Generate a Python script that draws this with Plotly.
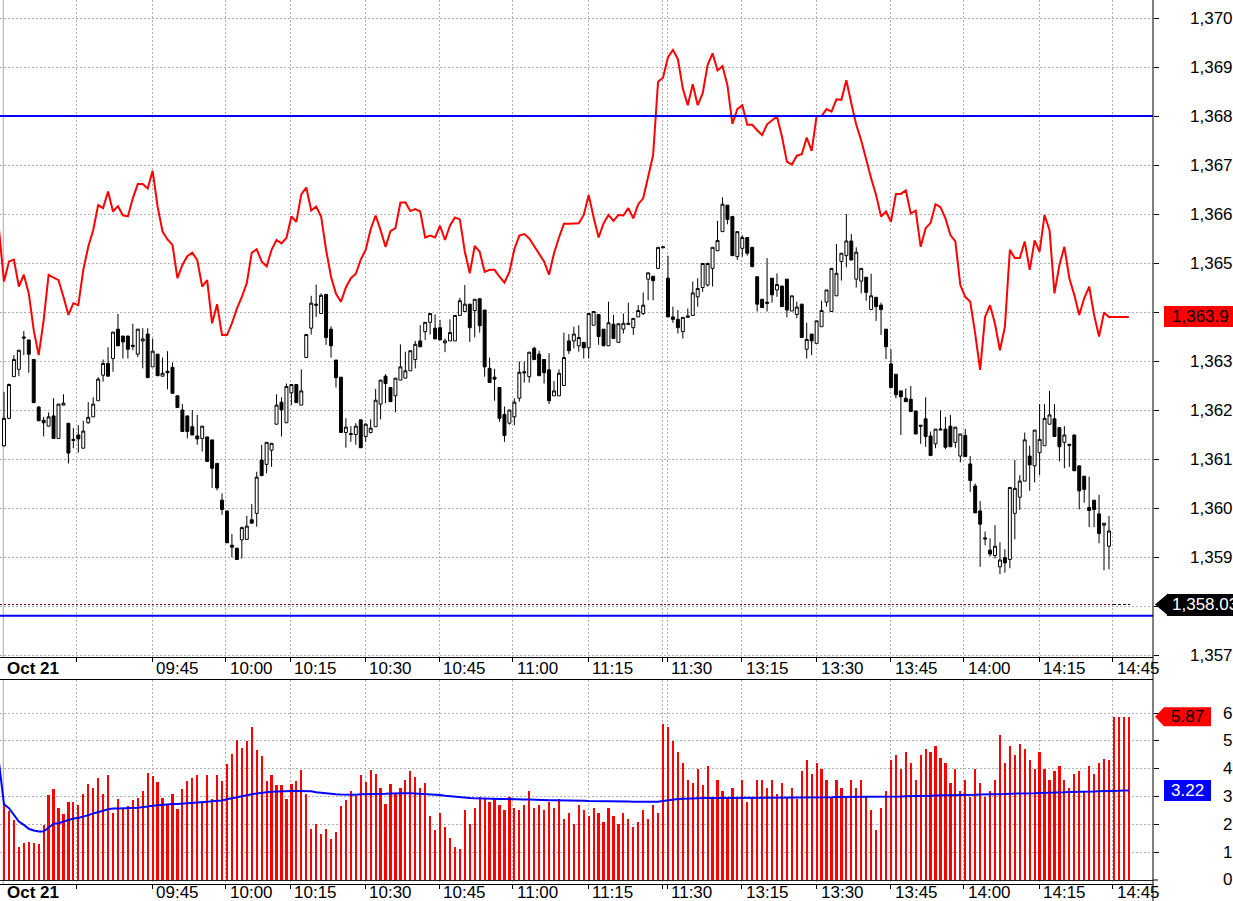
import plotly.graph_objects as go

# ---------------- data ----------------
opens = [1361.27, 1361.83, 1362.68, 1362.83, 1363.49, 1363.43, 1363.03, 1362.06, 1361.79, 1361.67,
         1361.88, 1361.42, 1362.10, 1361.73, 1361.40, 1361.49, 1361.22, 1361.74, 1361.86, 1362.19,
         1362.71, 1362.95, 1363.05, 1363.65, 1363.51, 1363.51, 1363.32, 1363.14, 1363.41, 1363.55,
         1362.88, 1363.14, 1362.69, 1362.79, 1362.87, 1362.29, 1362.00, 1361.88, 1361.66, 1361.47,
         1361.42, 1361.45, 1361.39, 1360.91, 1360.16, 1359.94, 1359.24, 1359.18, 1359.35, 1359.36,
         1359.76, 1359.89, 1360.98, 1360.89, 1361.18, 1361.71, 1362.16, 1361.74, 1362.35, 1362.52,
         1362.10, 1363.07, 1363.67, 1364.16, 1363.97, 1364.36, 1363.65, 1363.02, 1362.67, 1361.54,
         1361.52, 1361.50, 1361.80, 1361.46, 1361.54, 1361.66, 1362.12, 1362.69, 1362.46, 1362.29,
         1362.61, 1362.65, 1362.80, 1363.03, 1363.41, 1363.60, 1363.79, 1363.67, 1363.68, 1363.37,
         1363.41, 1363.41, 1363.93, 1364.01, 1364.16, 1364.03, 1364.27, 1364.04, 1362.85, 1362.67,
         1362.46, 1361.91, 1361.73, 1361.86, 1362.24, 1362.78, 1362.68, 1363.26, 1363.14, 1363.03,
         1362.82, 1362.29, 1362.29, 1362.50, 1363.41, 1363.41, 1363.31, 1363.38, 1363.27, 1363.73,
         1363.95, 1363.65, 1363.31, 1363.75, 1363.38, 1363.65, 1363.77, 1363.68, 1363.90, 1363.97,
         1364.67, 1364.73, 1364.89, 1365.31, 1364.69, 1363.90, 1363.85, 1363.60, 1363.89, 1363.93,
         1364.31, 1364.50, 1364.55, 1364.89, 1365.25, 1365.64, 1366.18, 1365.95, 1365.13, 1365.30,
         1365.52, 1365.32, 1364.72, 1364.26, 1364.20, 1364.69, 1364.45, 1364.53, 1364.67, 1364.02,
         1363.95, 1364.16, 1363.24, 1363.55, 1363.36, 1363.70, 1364.20, 1364.01, 1364.33, 1365.03,
         1365.15, 1365.45, 1364.67, 1364.63, 1364.71, 1364.05, 1364.30, 1364.14, 1363.65, 1362.94,
         1362.73, 1362.39, 1362.24, 1362.22, 1361.98, 1361.69, 1361.82, 1361.47, 1361.31, 1361.59,
         1361.61, 1361.67, 1361.34, 1361.06, 1361.48, 1360.90, 1360.45, 1359.94, 1359.39, 1359.14,
         1359.03, 1358.80, 1358.99, 1358.95, 1359.89, 1360.22, 1360.55, 1361.06, 1360.86, 1361.13,
         1361.27, 1361.71, 1361.82, 1361.64, 1361.34, 1361.30, 1361.49, 1360.86, 1360.65, 1360.01,
         1360.16, 1359.88, 1359.65, 1359.22]
highs = [1362.37, 1362.54, 1363.12, 1363.22, 1363.61, 1363.43, 1363.03, 1362.08, 1361.86, 1361.95,
         1362.24, 1362.12, 1362.32, 1361.73, 1361.63, 1361.69, 1361.78, 1362.16, 1362.26, 1362.67,
         1363.03, 1363.28, 1363.59, 1363.96, 1363.51, 1363.51, 1363.76, 1363.65, 1363.67, 1363.67,
         1363.46, 1363.14, 1363.07, 1363.20, 1362.97, 1362.29, 1362.12, 1361.88, 1362.00, 1361.90,
         1361.67, 1361.45, 1361.39, 1360.91, 1360.30, 1359.94, 1359.47, 1359.18, 1359.62, 1359.84,
         1360.08, 1360.74, 1361.29, 1361.34, 1361.32, 1362.32, 1362.26, 1362.54, 1362.52, 1362.52,
         1362.83, 1363.54, 1364.33, 1364.56, 1364.38, 1364.36, 1363.71, 1363.02, 1362.67, 1361.83,
         1361.67, 1361.73, 1361.80, 1361.73, 1361.81, 1362.43, 1362.61, 1362.73, 1362.46, 1362.65,
         1363.34, 1363.19, 1363.21, 1363.41, 1363.73, 1363.79, 1363.97, 1363.95, 1363.84, 1363.46,
         1363.85, 1363.93, 1364.29, 1364.55, 1364.16, 1364.26, 1364.27, 1364.04, 1363.07, 1362.84,
         1362.46, 1362.07, 1362.00, 1362.24, 1362.99, 1362.99, 1363.18, 1363.29, 1363.21, 1363.03,
         1363.16, 1362.59, 1362.83, 1363.58, 1363.55, 1363.70, 1363.73, 1363.38, 1363.97, 1364.01,
         1363.95, 1363.65, 1364.21, 1363.94, 1363.76, 1363.97, 1364.19, 1363.87, 1364.14, 1364.40,
         1364.80, 1364.73, 1365.32, 1365.33, 1365.15, 1364.11, 1364.04, 1363.89, 1364.07, 1364.62,
         1364.69, 1364.99, 1365.01, 1365.32, 1365.86, 1366.34, 1366.18, 1365.95, 1365.64, 1365.57,
         1365.52, 1365.32, 1364.72, 1364.26, 1365.10, 1364.69, 1364.79, 1364.53, 1364.67, 1364.33,
         1364.21, 1364.16, 1363.78, 1363.55, 1363.82, 1364.23, 1364.45, 1364.89, 1365.39, 1365.20,
         1366.00, 1365.59, 1365.32, 1364.89, 1364.71, 1364.78, 1364.30, 1364.19, 1363.65, 1363.24,
         1362.73, 1362.39, 1362.44, 1362.49, 1361.98, 1361.69, 1362.26, 1361.56, 1361.61, 1361.99,
         1361.86, 1361.90, 1361.65, 1361.51, 1361.61, 1361.06, 1360.50, 1360.14, 1359.52, 1359.38,
         1359.65, 1359.30, 1359.16, 1360.42, 1360.98, 1360.67, 1361.54, 1361.27, 1361.59, 1362.12,
         1362.12, 1362.39, 1362.12, 1361.64, 1361.67, 1361.30, 1361.49, 1360.86, 1360.65, 1360.64,
         1360.16, 1360.27, 1359.69, 1359.84]
lows = [1361.25, 1361.81, 1362.68, 1362.69, 1363.12, 1362.76, 1362.15, 1361.78, 1361.46, 1361.67,
        1361.42, 1361.42, 1362.10, 1360.91, 1361.22, 1361.13, 1361.22, 1361.72, 1361.86, 1362.19,
        1362.58, 1362.69, 1362.78, 1363.31, 1363.05, 1363.05, 1363.22, 1363.08, 1362.85, 1362.66,
        1362.88, 1362.70, 1362.69, 1362.42, 1362.34, 1362.05, 1361.56, 1361.42, 1361.49, 1361.29,
        1361.15, 1360.95, 1360.41, 1360.36, 1359.86, 1359.29, 1358.99, 1358.95, 1358.97, 1359.36,
        1359.69, 1359.62, 1360.66, 1360.71, 1360.84, 1361.71, 1361.46, 1361.74, 1362.10, 1362.15,
        1362.10, 1363.07, 1363.54, 1363.90, 1363.97, 1363.33, 1363.07, 1362.46, 1361.54, 1361.23,
        1361.35, 1361.29, 1361.23, 1361.35, 1361.52, 1361.66, 1361.81, 1362.14, 1362.17, 1361.95,
        1362.61, 1362.65, 1362.80, 1362.85, 1363.29, 1363.43, 1363.54, 1363.45, 1363.43, 1363.18,
        1363.41, 1363.41, 1363.93, 1364.01, 1363.39, 1363.48, 1363.58, 1362.68, 1362.56, 1362.19,
        1361.76, 1361.35, 1361.70, 1361.69, 1362.17, 1362.56, 1362.56, 1363.03, 1362.70, 1362.54,
        1362.12, 1362.29, 1362.29, 1362.50, 1363.14, 1363.26, 1363.19, 1363.05, 1363.05, 1363.73,
        1363.33, 1363.31, 1363.31, 1363.46, 1363.38, 1363.56, 1363.75, 1363.53, 1363.90, 1363.94,
        1364.24, 1364.24, 1364.89, 1365.31, 1363.90, 1363.78, 1363.56, 1363.46, 1363.89, 1363.93,
        1364.11, 1364.41, 1364.52, 1364.52, 1365.25, 1365.64, 1365.79, 1365.15, 1365.06, 1365.13,
        1365.15, 1364.91, 1364.01, 1364.09, 1364.01, 1364.19, 1364.31, 1364.11, 1363.89, 1364.02,
        1363.87, 1363.48, 1363.05, 1363.12, 1363.36, 1363.70, 1364.11, 1364.01, 1364.33, 1364.64,
        1364.91, 1365.06, 1364.50, 1364.38, 1364.23, 1364.05, 1363.82, 1363.53, 1363.04, 1362.46,
        1362.24, 1361.49, 1362.17, 1361.97, 1361.51, 1361.31, 1361.25, 1361.07, 1361.22, 1361.59,
        1361.20, 1361.25, 1361.23, 1360.93, 1361.05, 1360.33, 1359.90, 1358.80, 1359.24, 1359.01,
        1358.97, 1358.65, 1358.68, 1358.77, 1359.36, 1359.96, 1360.55, 1360.35, 1360.52, 1360.67,
        1361.27, 1361.71, 1361.46, 1360.95, 1360.81, 1360.84, 1360.76, 1359.97, 1360.11, 1359.61,
        1359.61, 1359.28, 1358.73, 1358.75]
closes = [1361.83, 1362.52, 1363.03, 1363.22, 1363.47, 1363.14, 1362.15, 1361.78, 1361.74, 1361.86,
          1361.42, 1362.12, 1362.14, 1361.12, 1361.38, 1361.41, 1361.57, 1361.85, 1362.12, 1362.63,
          1362.95, 1362.69, 1363.59, 1363.31, 1363.39, 1363.24, 1363.30, 1363.65, 1363.45, 1362.66,
          1363.20, 1362.70, 1362.75, 1362.76, 1362.34, 1362.05, 1361.56, 1361.56, 1361.49, 1361.41,
          1361.67, 1360.95, 1360.81, 1360.41, 1359.97, 1359.29, 1359.20, 1358.95, 1359.60, 1359.63,
          1359.69, 1360.63, 1360.66, 1361.34, 1361.32, 1362.10, 1362.00, 1362.48, 1362.52, 1362.15,
          1362.39, 1363.54, 1364.18, 1364.14, 1364.34, 1363.48, 1363.31, 1362.66, 1361.54, 1361.65,
          1361.50, 1361.67, 1361.23, 1361.71, 1361.63, 1362.20, 1362.61, 1362.54, 1362.17, 1362.65,
          1362.88, 1362.80, 1363.21, 1363.34, 1363.29, 1363.79, 1363.97, 1363.45, 1363.43, 1363.41,
          1363.58, 1363.93, 1364.23, 1364.16, 1363.68, 1364.26, 1363.72, 1362.88, 1362.56, 1362.63,
          1361.83, 1361.48, 1362.00, 1362.16, 1362.77, 1362.76, 1363.18, 1363.03, 1362.70, 1362.76,
          1362.19, 1362.39, 1362.75, 1363.07, 1363.21, 1363.55, 1363.48, 1363.27, 1363.97, 1364.01,
          1363.50, 1363.31, 1363.78, 1363.46, 1363.76, 1363.77, 1363.75, 1363.87, 1364.03, 1364.14,
          1364.80, 1364.64, 1365.32, 1365.33, 1363.90, 1363.85, 1363.68, 1363.89, 1363.92, 1364.39,
          1364.48, 1364.99, 1364.99, 1365.32, 1365.46, 1366.20, 1365.89, 1365.15, 1365.64, 1365.52,
          1365.20, 1364.93, 1364.16, 1364.09, 1364.18, 1364.35, 1364.56, 1364.11, 1364.04, 1364.33,
          1364.10, 1363.48, 1363.44, 1363.41, 1363.82, 1364.03, 1364.45, 1364.89, 1364.79, 1365.20,
          1365.45, 1365.06, 1365.22, 1364.89, 1364.40, 1364.33, 1364.11, 1364.05, 1363.29, 1362.46,
          1362.31, 1362.27, 1362.17, 1361.97, 1361.51, 1361.67, 1361.46, 1361.07, 1361.61, 1361.61,
          1361.24, 1361.25, 1361.65, 1361.51, 1361.05, 1360.56, 1359.90, 1359.67, 1359.37, 1359.06,
          1359.22, 1358.94, 1358.88, 1360.42, 1360.40, 1360.55, 1361.39, 1360.88, 1361.59, 1361.40,
          1361.83, 1361.90, 1361.46, 1361.25, 1361.49, 1361.28, 1360.76, 1360.35, 1360.38, 1359.95,
          1359.97, 1359.48, 1359.69, 1359.53]

# red indicator line, bar -1 .. 227
red_line = [1365.67,
    1364.62, 1365.03, 1365.07, 1364.52, 1364.76, 1364.38, 1363.63, 1363.12, 1363.83, 1364.76,
    1364.70, 1364.65, 1364.31, 1363.94, 1364.18, 1364.14, 1364.86, 1365.33, 1365.67, 1366.18,
    1366.12, 1366.46, 1366.05, 1366.16, 1365.97, 1365.95, 1366.32, 1366.61, 1366.61, 1366.52,
    1366.88, 1366.15, 1365.64, 1365.48, 1365.37, 1364.69, 1364.96, 1365.14, 1365.21, 1365.06,
    1364.52, 1364.65, 1363.77, 1364.16, 1363.53, 1363.53, 1363.77, 1364.07, 1364.31, 1364.59,
    1365.21, 1365.28, 1365.03, 1364.93, 1365.27, 1365.47, 1365.40, 1365.51, 1365.95, 1365.84,
    1366.40, 1366.54, 1366.07, 1366.15, 1365.95, 1365.27, 1364.72, 1364.37, 1364.21, 1364.50,
    1364.69, 1364.78, 1365.07, 1365.27, 1365.69, 1365.97, 1365.67, 1365.33, 1365.65, 1365.71,
    1366.23, 1366.24, 1366.06, 1366.10, 1366.05, 1365.52, 1365.56, 1365.52, 1365.76, 1365.47,
    1365.76, 1365.93, 1365.89, 1365.23, 1364.79, 1365.35, 1365.23, 1364.82, 1364.86, 1364.86,
    1364.72, 1364.60, 1364.82, 1365.28, 1365.56, 1365.59, 1365.50, 1365.35, 1365.18, 1365.03,
    1364.76, 1365.20, 1365.52, 1365.80, 1365.80, 1365.81, 1365.81, 1365.98, 1366.39, 1365.93,
    1365.52, 1365.81, 1365.98, 1365.86, 1365.98, 1365.97, 1366.12, 1365.91, 1366.20, 1366.32,
    1366.76, 1367.20, 1368.70, 1368.78, 1369.20, 1369.35, 1369.16, 1368.56, 1368.22, 1368.65,
    1368.22, 1368.46, 1369.04, 1369.28, 1368.93, 1369.02, 1368.63, 1367.84, 1368.14, 1368.22,
    1367.82, 1367.82, 1367.71, 1367.61, 1367.83, 1367.92, 1367.99, 1367.58, 1367.07, 1367.01,
    1367.19, 1367.22, 1367.56, 1367.29, 1368.00, 1368.00, 1368.14, 1368.09, 1368.34, 1368.33,
    1368.73, 1368.26, 1367.82, 1367.50, 1367.10, 1366.73, 1366.39, 1365.95, 1366.05, 1365.84,
    1366.41, 1366.41, 1366.48, 1366.01, 1366.07, 1365.33, 1365.71, 1365.82, 1366.20, 1366.14,
    1365.91, 1365.57, 1365.44, 1364.55, 1364.31, 1364.21, 1363.56, 1362.82, 1363.90, 1364.14,
    1363.76, 1363.22, 1363.70, 1365.27, 1365.10, 1365.10, 1365.44, 1364.86, 1365.46, 1365.23,
    1365.98, 1365.67, 1364.38, 1364.96, 1365.33, 1364.69, 1364.35, 1363.94, 1364.28, 1364.52,
    1363.94, 1363.50, 1363.99, 1363.90, 1363.90, 1363.90, 1363.90, 1363.90]

# volume, bar 0 .. 227
volume = [2.69, 2.47, 2.15, 1.19, 1.34, 1.37, 1.34, 1.29, 1.97, 3.04,
          3.26, 2.59, 2.36, 2.80, 2.80, 2.69, 3.10, 3.44, 3.31, 3.68,
          3.08, 3.79, 2.39, 2.90, 2.60, 2.65, 2.86, 2.94, 3.19, 3.84,
          3.72, 3.51, 2.95, 2.74, 3.08, 2.54, 3.26, 3.54, 3.68, 3.79,
          2.78, 3.76, 2.90, 3.76, 3.56, 4.18, 4.51, 5.04, 4.74, 5.01,
          5.51, 4.68, 4.44, 3.56, 3.79, 3.40, 3.40, 2.90, 3.46, 3.54,
          3.94, 3.08, 1.83, 2.03, 1.65, 1.83, 1.46, 1.72, 2.65, 2.86,
          3.19, 3.03, 3.76, 3.52, 3.97, 3.82, 3.31, 2.74, 3.44, 3.10,
          3.32, 3.60, 3.90, 3.70, 3.30, 3.50, 2.30, 1.80, 2.40, 1.90,
          1.50, 1.20, 1.10, 2.50, 2.00, 2.60, 3.00, 2.90, 2.80, 2.90,
          2.70, 2.50, 3.00, 2.60, 2.50, 2.70, 3.20, 2.60, 2.70, 2.50,
          2.80, 2.60, 2.90, 2.20, 2.40, 2.00, 2.70, 2.50, 2.30, 2.60,
          2.40, 2.10, 2.60, 2.30, 2.00, 2.40, 2.20, 1.90, 2.10, 2.50,
          2.20, 2.70, 2.40, 5.60, 5.50, 5.00, 4.60, 4.20, 3.60, 3.50,
          4.00, 3.40, 4.10, 3.00, 3.60, 3.20, 2.90, 3.30, 3.00, 3.60,
          2.80, 3.00, 3.60, 3.60, 3.30, 3.60, 3.10, 3.50, 3.00, 3.30,
          2.90, 3.90, 4.30, 3.80, 4.20, 4.00, 3.60, 3.00, 3.60, 3.30,
          3.00, 3.60, 3.30, 3.60, 3.00, 2.50, 1.80, 2.60, 3.20, 4.30,
          4.50, 4.00, 4.60, 4.20, 3.60, 4.50, 4.70, 4.60, 4.80, 4.40,
          4.20, 3.50, 4.00, 3.20, 3.60, 3.00, 4.00, 3.50, 3.00, 3.20,
          3.60, 5.20, 4.20, 4.80, 4.50, 4.90, 4.70, 4.30, 4.00, 4.60,
          4.00, 3.60, 3.90, 4.10, 3.60, 3.30, 3.80, 3.90, 3.20, 4.10,
          3.80, 4.20, 4.35, 4.30, 5.87, 5.87, 5.87, 5.87]

# blue volume average, bar -1 .. 227
volume_avg = [4.20,
    2.72, 2.58, 2.36, 2.10, 1.98, 1.84, 1.78, 1.74, 1.74, 1.89,
    2.02, 2.04, 2.10, 2.16, 2.21, 2.23, 2.27, 2.33, 2.39, 2.45,
    2.49, 2.54, 2.57, 2.57, 2.57, 2.58, 2.59, 2.60, 2.61, 2.64,
    2.67, 2.69, 2.71, 2.72, 2.73, 2.73, 2.74, 2.75, 2.77, 2.78,
    2.80, 2.81, 2.83, 2.84, 2.86, 2.90, 2.94, 2.98, 3.01, 3.05,
    3.08, 3.11, 3.14, 3.15, 3.17, 3.18, 3.20, 3.20, 3.20, 3.20,
    3.20, 3.20, 3.19, 3.15, 3.13, 3.10, 3.09, 3.08, 3.07, 3.06,
    3.05, 3.06, 3.08, 3.08, 3.09, 3.09, 3.10, 3.10, 3.11, 3.12,
    3.13, 3.12, 3.12, 3.11, 3.11, 3.10, 3.08, 3.06, 3.05, 3.03,
    3.01, 2.99, 2.97, 2.96, 2.95, 2.94, 2.93, 2.93, 2.92, 2.92,
    2.91, 2.91, 2.90, 2.90, 2.89, 2.89, 2.89, 2.88, 2.88, 2.88,
    2.87, 2.87, 2.87, 2.86, 2.86, 2.85, 2.85, 2.85, 2.84, 2.84,
    2.84, 2.83, 2.83, 2.83, 2.82, 2.82, 2.82, 2.81, 2.81, 2.81,
    2.81, 2.81, 2.81, 2.84, 2.87, 2.89, 2.91, 2.92, 2.93, 2.93,
    2.94, 2.94, 2.95, 2.95, 2.95, 2.95, 2.95, 2.95, 2.95, 2.95,
    2.95, 2.95, 2.95, 2.95, 2.96, 2.96, 2.96, 2.96, 2.96, 2.96,
    2.96, 2.97, 2.97, 2.97, 2.97, 2.97, 2.97, 2.97, 2.98, 2.98,
    2.98, 2.98, 2.98, 2.98, 2.98, 2.98, 2.98, 2.98, 2.99, 2.99,
    3.00, 3.00, 3.01, 3.01, 3.02, 3.02, 3.03, 3.03, 3.04, 3.04,
    3.04, 3.05, 3.05, 3.05, 3.06, 3.06, 3.06, 3.07, 3.07, 3.08,
    3.08, 3.09, 3.09, 3.10, 3.10, 3.11, 3.11, 3.12, 3.12, 3.13,
    3.13, 3.14, 3.14, 3.15, 3.15, 3.16, 3.16, 3.17, 3.17, 3.18,
    3.18, 3.19, 3.19, 3.20, 3.21, 3.21, 3.22, 3.22]

date_label = "Oct 21"
time_ticks = [14.73, 29.87, 44.80, 57.72, 72.86, 87.79, 102.72, 117.86, 132.85, 133.86,
              148.88, 164.02, 179.01, 193.74, 208.88, 223.81]
time_labels = ["", "09:45", "10:00", "10:15", "10:30", "10:45", "11:00", "11:15", "", "11:30",
               "13:15", "13:30", "13:45", "14:00", "14:15", "14:45"]
price_ticks = list(range(1357, 1371))
price_tick_labels = ["1,357", "1,358", "1,359", "1,360", "1,361", "1,362", "1,363", "1,364",
                     "1,365", "1,366", "1,367", "1,368", "1,369", "1,370"]
volume_ticks = [0, 1, 2, 3, 4, 5, 6]
volume_tick_labels = ["0", "1", "2", "3", "4", "5", "6"]
level_high = 1368.0
level_low = 1357.8
ref_level = 1358.03
last_red = 1363.9
last_volume = 5.87
last_avg = 3.22

# ---------------- layout helpers ----------------
W, H = 1233, 901
ML, MR, MT, MB = 0, 80, 0, 17
PW, PH = W - ML - MR, H - MT - MB


def fx(px):
    return (px - ML) / PW


def fy(py):
    return (PH - (py - MT)) / PH


def price_px(v):
    return 312 + (1364 - v) * 49.0


def vol_px(v):
    return 880 - v * 27.83


main_dom = [fy(657), 1.0]
vol_dom = [0.0, fy(680)]
price_range = [1364 - (657 - 312) / 49.0, 1364 + 312 / 49.0]
vol_range = [-(884 - 880) / 27.83, (880 - 680) / 27.83]
x_range = [-4 / 4.955, (PW - 4) / 4.955]

FONT = "Liberation Sans, Arial, sans-serif"
GRID = "#b0b0b0"
FS = 17

n_c = len(opens)
fig = go.Figure()
fig.add_trace(go.Candlestick(
    x=list(range(n_c)), open=opens, high=highs, low=lows, close=closes,
    increasing=dict(line=dict(color="black", width=1), fillcolor="white"),
    decreasing=dict(line=dict(color="black", width=1), fillcolor="black"),
    whiskerwidth=0, xaxis="x", yaxis="y", showlegend=False, hoverinfo="skip"))
fig.add_trace(go.Scatter(
    x=list(range(-1, len(red_line) - 1)), y=red_line, mode="lines",
    line=dict(color="#ff0000", width=2), xaxis="x", yaxis="y", showlegend=False,
    hoverinfo="skip"))
fig.add_trace(go.Bar(
    x=list(range(len(volume))), y=volume, marker=dict(color="#ff0000", line=dict(width=0)),
    width=0.45, xaxis="x2", yaxis="y2", showlegend=False, hoverinfo="skip"))
fig.add_trace(go.Scatter(
    x=list(range(-1, len(volume_avg) - 1)), y=volume_avg, mode="lines",
    line=dict(color="#0000ff", width=2), xaxis="x2", yaxis="y2", showlegend=False,
    hoverinfo="skip"))

axis_common = dict(showticklabels=False, ticks="outside", ticklen=4, tickcolor="black",
                   showgrid=True, gridcolor=GRID, griddash="2px,2px", gridwidth=1,
                   zeroline=False, fixedrange=True)

fig.update_layout(
    width=W, height=H, margin=dict(l=ML, r=MR, t=MT, b=MB),
    paper_bgcolor="white", plot_bgcolor="white", hovermode=False, showlegend=False,
    boxgap=0.3, boxgroupgap=0.15, bargap=0,
    xaxis=dict(domain=[0, 1], range=x_range, anchor="y", tickvals=time_ticks,
               showline=True, linecolor="black", linewidth=1,
               rangeslider=dict(visible=False), **axis_common),
    xaxis2=dict(domain=[0, 1], range=x_range, anchor="y2", matches="x", tickvals=time_ticks,
                showline=True, linecolor="black", linewidth=1, mirror=True, **axis_common),
    yaxis=dict(domain=main_dom, range=price_range, side="right", anchor="x",
               tickvals=price_ticks, showticklabels=False, ticks="outside", ticklen=5,
               tickcolor="black", showgrid=True, gridcolor=GRID, griddash="2px,2px",
               zeroline=False, showline=False, fixedrange=True),
    yaxis2=dict(domain=vol_dom, range=vol_range, side="right", anchor="x2",
                tickvals=volume_ticks[1:], showticklabels=False, ticks="outside", ticklen=5,
                tickcolor="black", showgrid=True, gridcolor=GRID, griddash="2px,2px",
                zeroline=True, zerolinecolor="#202020", zerolinewidth=1,
                showline=False, fixedrange=True),
)

shapes = []
for lv in (level_high, level_low):
    shapes.append(dict(type="line", xref="paper", yref="y", x0=0, x1=1, y0=lv, y1=lv,
                       line=dict(color="#0000ff", width=2)))
shapes.append(dict(type="line", xref="x", yref="y", x0=x_range[0], x1=time_ticks[-1],
                   y0=ref_level, y1=ref_level, line=dict(color="#700000", width=1, dash="2px,2px")))
shapes.append(dict(type="line", xref="x", yref="y", x0=time_ticks[-1], x1=227.3,
                   y0=ref_level, y1=ref_level, line=dict(color="black", width=1, dash="3px,2px")))
for dom in (main_dom, vol_dom):
    shapes.append(dict(type="line", xref="x", yref="paper", x0=-0.15, x1=-0.15,
                       y0=dom[0], y1=dom[1], line=dict(color="#a8a8a8", width=1), layer="below"))
shapes.append(dict(type="line", xref="paper", yref="paper", x0=1, x1=1, y0=fy(H), y1=1,
                   line=dict(color="black", width=1)))
shapes.append(dict(type="line", xref="paper", yref="paper", x0=1, x1=fx(1158),
                   y0=fy(vol_px(0)), y1=fy(vol_px(0)), line=dict(color="black", width=1)))


def path(points):
    return "M " + " L ".join(f"{fx(a):.5f},{fy(b):.5f}" for a, b in points) + " Z"


# arrow tips (shapes), box bodies are annotations so they sit above tick labels
py = price_px(ref_level)
shapes.append(dict(type="path", xref="paper", yref="paper",
                   path=path([(1155, py), (1168, py - 11), (1168, py + 11)]),
                   fillcolor="black", line=dict(width=0)))
py = vol_px(last_volume)
shapes.append(dict(type="path", xref="paper", yref="paper",
                   path=path([(1155, py), (1164, py - 9.5), (1211, py - 9.5), (1211, py + 9.5), (1164, py + 9.5)]),
                   fillcolor="#ff0000", line=dict(width=0)))
py = vol_px(last_avg)
shapes.append(dict(type="path", xref="paper", yref="paper",
                   path=path([(1164, py - 10.5), (1211, py - 10.5), (1211, py + 10.5), (1164, py + 10.5)]),
                   fillcolor="#0000ff", line=dict(width=0)))

annotations = []
for v, t in zip(price_ticks, price_tick_labels):
    annotations.append(dict(text=t, xref="paper", yref="y", x=1, y=v, xanchor="right",
                            yanchor="middle", xshift=81, showarrow=False, borderpad=0,
                            font=dict(family=FONT, size=FS, color="black")))
for v, t in zip(volume_ticks, volume_tick_labels):
    annotations.append(dict(text=t, xref="paper", yref="y2", x=1, y=v, xanchor="right",
                            yanchor="middle", xshift=80, showarrow=False, borderpad=0,
                            font=dict(family=FONT, size=FS, color="black")))
for row_py in (668, 892):
    annotations.append(dict(text=f"<b>{date_label}</b>", xref="paper", yref="paper", x=0,
                            y=fy(row_py), xanchor="left", yanchor="middle", xshift=6,
                            showarrow=False, borderpad=0,
                            font=dict(family=FONT, size=FS, color="black")))
    for tv, tl in zip(time_ticks, time_labels):
        if tl:
            annotations.append(dict(text=tl, xref="x", yref="paper", x=tv, y=fy(row_py),
                                    xanchor="left", yanchor="middle", xshift=3,
                                    showarrow=False, borderpad=0,
                                    font=dict(family=FONT, size=FS, color="black")))
# box bodies drawn above the tick labels
annotations.append(dict(text=" ", xref="paper", yref="y", x=fx(1164), y=last_red,
                        xanchor="left", yanchor="middle", showarrow=False, width=85, height=21,
                        bgcolor="#ff0000", borderpad=0, borderwidth=0))
annotations.append(dict(text=" ", xref="paper", yref="y", x=fx(1167), y=ref_level,
                        xanchor="left", yanchor="middle", showarrow=False, width=85, height=22,
                        bgcolor="black", borderpad=0, borderwidth=0))
annotations.append(dict(text=f"{last_red:,.1f}", xref="paper", yref="y", x=fx(1171), y=last_red,
                        xanchor="left", yanchor="middle", showarrow=False, borderpad=0,
                        font=dict(family=FONT, size=FS, color="black")))
annotations.append(dict(text=f"{ref_level:,.2f}", xref="paper", yref="y", x=fx(1171), y=ref_level,
                        xanchor="left", yanchor="middle", showarrow=False, borderpad=0,
                        font=dict(family=FONT, size=FS, color="white")))
annotations.append(dict(text=f"{last_volume:.2f}", xref="paper", yref="y2", x=fx(1170), y=last_volume,
                        xanchor="left", yanchor="middle", showarrow=False, borderpad=0,
                        font=dict(family=FONT, size=FS, color="black")))
annotations.append(dict(text=f"{last_avg:.2f}", xref="paper", yref="y2", x=fx(1170), y=last_avg,
                        xanchor="left", yanchor="middle", showarrow=False, borderpad=0,
                        font=dict(family=FONT, size=FS, color="white")))

fig.update_layout(shapes=shapes, annotations=annotations)
fig.write_html("out.html")
